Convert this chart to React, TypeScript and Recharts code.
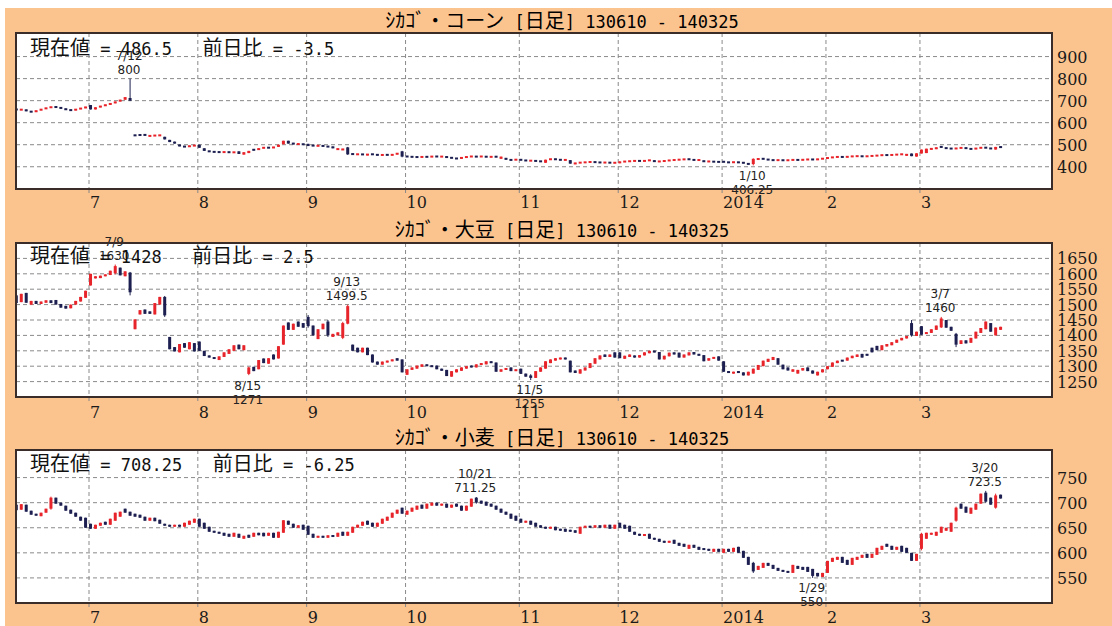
import React from 'react';
import { ComposedChart, Bar, XAxis, YAxis, CartesianGrid, ReferenceDot } from 'recharts';

// trading-day index of the first session of each month (130610 = index 0)
const monthStart = [15, 37, 59, 79, 102, 122, 143, 164, 183];
const monthLabels = ['7', '8', '9', '10', '11', '12', '2014', '2', '3'];

const cornOpen = [
  662, 658, 660, 652, 648, 656, 662, 668, 672, 670, 664, 658, 656, 662, 666, 680, 660, 670, 676, 682,
  688, 696, 704, 712, 545, 546, 548, 538, 540, 541, 536, 522, 514, 500, 493, 490, 494, 500, 484, 472,
  469, 468, 465, 468, 464, 470, 455, 462, 480, 476, 484, 488, 485, 490, 502, 518, 508, 502, 504, 504,
  498, 494, 496, 493, 492, 478, 476, 488, 460, 455, 458, 452, 458, 456, 452, 455, 452, 456, 470, 448,
  446, 445, 443, 446, 444, 448, 445, 447, 442, 439, 437, 442, 445, 447, 445, 447, 443, 447, 436, 440,
  432, 431, 433, 430, 427, 428, 425, 418, 432, 436, 433, 430, 430, 412, 417, 419, 420, 422, 421, 418,
  420, 417, 416, 422, 424, 425, 427, 425, 428, 429, 423, 424, 427, 429, 431, 432, 436, 432, 430, 428,
  423, 424, 423, 424, 421, 419, 422, 420, 416, 412, 432, 438, 434, 431, 429, 431, 428, 430, 432, 430,
  432, 434, 431, 435, 436, 441, 443, 446, 443, 446, 447, 449, 446, 448, 449, 451, 454, 452, 454, 455,
  450, 460, 446, 460, 462, 478, 480, 494, 486, 484, 481, 484, 487, 482, 480, 484, 488, 485, 478, 492,
];
const cornClose = [
  658, 660, 652, 648, 656, 662, 668, 672, 670, 664, 658, 656, 662, 666, 672, 660, 670, 676, 682, 688,
  696, 704, 716, 700, 540, 542, 541, 542, 543, 544, 524, 512, 505, 493, 490, 496, 498, 486, 472, 468,
  466, 465, 468, 464, 467, 458, 466, 472, 474, 484, 488, 485, 490, 500, 518, 505, 502, 504, 500, 494,
  494, 496, 493, 490, 484, 482, 481, 456, 455, 458, 454, 458, 455, 452, 455, 453, 456, 462, 446, 445,
  444, 443, 446, 444, 448, 445, 447, 441, 439, 436, 443, 446, 448, 445, 448, 444, 447, 444, 446, 432,
  430, 433, 430, 427, 428, 425, 424, 432, 436, 432, 430, 432, 414, 418, 420, 421, 423, 420, 418, 420,
  417, 419, 424, 425, 426, 428, 426, 428, 430, 422, 425, 428, 430, 432, 433, 435, 432, 430, 431, 422,
  425, 422, 421, 421, 419, 422, 418, 416, 410, 436, 438, 434, 431, 429, 431, 428, 431, 432, 430, 433,
  434, 432, 436, 438, 443, 444, 446, 443, 447, 448, 449, 446, 449, 450, 452, 454, 452, 455, 456, 458,
  458, 448, 461, 478, 482, 484, 488, 486, 483, 481, 485, 487, 482, 480, 485, 488, 485, 481, 490, 486.5,
];
// [index, high, low] where a wick shows beyond the body
const cornWicks = [[23, 800, 698], [149, 438, 406.25], [78, 472, 443], [67, 490, 454]];

const soyOpen = [
  1530, 1508, 1538, 1500, 1512, 1502, 1506, 1514, 1515, 1502, 1496, 1488, 1500, 1510, 1522, 1562, 1585, 1586, 1592, 1596,
  1602, 1620, 1592, 1604, 1420, 1468, 1484, 1478, 1468, 1500, 1525, 1395, 1362, 1345, 1375, 1355, 1375, 1380, 1350, 1335,
  1328, 1320, 1330, 1340, 1350, 1370, 1352, 1275, 1298, 1290, 1325, 1308, 1338, 1325, 1370, 1442, 1418, 1445, 1440, 1460,
  1432, 1388, 1420, 1445, 1395, 1400, 1392, 1438, 1370, 1360, 1345, 1360, 1338, 1315, 1305, 1312, 1316, 1326, 1322, 1272,
  1288, 1292, 1298, 1306, 1302, 1302, 1292, 1288, 1266, 1280, 1285, 1292, 1302, 1296, 1304, 1306, 1316, 1312, 1282, 1288,
  1296, 1284, 1292, 1276, 1270, 1262, 1282, 1292, 1310, 1318, 1322, 1328, 1318, 1286, 1276, 1286, 1294, 1308, 1322, 1338,
  1330, 1345, 1345, 1324, 1330, 1335, 1328, 1335, 1342, 1350, 1346, 1322, 1332, 1345, 1344, 1328, 1335, 1346, 1340, 1336,
  1318, 1324, 1332, 1316, 1284, 1276, 1284, 1280, 1270, 1276, 1288, 1300, 1314, 1320, 1326, 1305, 1296, 1282, 1276, 1286,
  1296, 1286, 1270, 1280, 1290, 1298, 1310, 1320, 1318, 1326, 1330, 1340, 1340, 1360, 1366, 1352, 1364, 1368, 1376, 1384,
  1390, 1440, 1398, 1430, 1405, 1408, 1418, 1426, 1450, 1428, 1405, 1372, 1384, 1376, 1390, 1408, 1420, 1440, 1400, 1418,
];
const soyClose = [
  1505, 1535, 1506, 1512, 1502, 1510, 1514, 1505, 1500, 1490, 1487, 1500, 1512, 1525, 1545, 1600, 1592, 1594, 1598, 1610,
  1625, 1595, 1608, 1540, 1452, 1482, 1470, 1470, 1505, 1525, 1465, 1355, 1348, 1372, 1360, 1378, 1348, 1350, 1333, 1328,
  1325, 1332, 1345, 1355, 1368, 1355, 1368, 1296, 1284, 1320, 1310, 1326, 1322, 1365, 1432, 1418, 1438, 1428, 1425, 1430,
  1400, 1420, 1438, 1400, 1405, 1410, 1440, 1495, 1350, 1345, 1360, 1336, 1312, 1305, 1315, 1318, 1322, 1318, 1280, 1290,
  1296, 1302, 1306, 1300, 1298, 1290, 1285, 1268, 1284, 1290, 1296, 1300, 1296, 1306, 1310, 1316, 1310, 1282, 1290, 1294,
  1284, 1290, 1275, 1266, 1262, 1284, 1296, 1316, 1322, 1326, 1328, 1322, 1280, 1278, 1290, 1296, 1310, 1326, 1335, 1330,
  1338, 1328, 1326, 1334, 1338, 1328, 1336, 1345, 1350, 1345, 1322, 1334, 1344, 1338, 1328, 1338, 1345, 1338, 1334, 1316,
  1326, 1330, 1318, 1282, 1278, 1282, 1278, 1270, 1282, 1292, 1304, 1318, 1324, 1330, 1305, 1290, 1286, 1290, 1288, 1294,
  1284, 1276, 1282, 1290, 1300, 1312, 1318, 1316, 1328, 1334, 1338, 1328, 1334, 1345, 1352, 1368, 1372, 1378, 1386, 1392,
  1398, 1400, 1412, 1402, 1410, 1420, 1432, 1455, 1425, 1415, 1370, 1384, 1374, 1392, 1412, 1424, 1445, 1412, 1425.5, 1428,
];
const soyWicks = [
  [20, 1630, 1598], [23, 1606, 1530], [30, 1528, 1460], [47, 1298, 1271], [59, 1466, 1425],
  [63, 1450, 1395], [66, 1444, 1388], [67, 1499.5, 1436], [104, 1274, 1255], [181, 1450, 1396],
  [187, 1460, 1424], [190, 1408, 1362],
];

const wheatOpen = [
  696, 686, 696, 684, 678, 673, 680, 688, 710, 700, 694, 686, 680, 672, 670, 658, 648, 654, 662, 656,
  664, 672, 688, 682, 678, 676, 672, 664, 670, 666, 658, 656, 652, 656, 652, 656, 660, 668, 660, 652,
  644, 642, 640, 638, 632, 638, 628, 636, 632, 640, 640, 634, 640, 630, 640, 664, 658, 650, 656, 654,
  638, 630, 634, 630, 635, 632, 642, 634, 640, 650, 654, 664, 660, 652, 658, 664, 670, 678, 690, 676,
  682, 686, 696, 688, 694, 700, 694, 698, 690, 698, 694, 684, 692, 710, 704, 702, 698, 694, 688, 682,
  678, 674, 668, 660, 664, 660, 655, 652, 648, 652, 648, 648, 646, 645, 638, 650, 654, 650, 655, 650,
  656, 648, 660, 656, 654, 642, 638, 634, 638, 630, 628, 624, 620, 626, 620, 618, 608, 616, 612, 609,
  608, 602, 608, 600, 608, 602, 612, 604, 592, 580, 566, 570, 580, 576, 570, 566, 564, 560, 574, 572,
  572, 568, 560, 552, 560, 582, 586, 592, 586, 576, 586, 590, 598, 590, 596, 606, 618, 614, 606, 614,
  610, 600, 584, 608, 628, 636, 634, 640, 644, 642, 664, 698, 692, 678, 686, 698, 720, 710, 690, 716,
];
const wheatClose = [
  685, 697, 682, 676, 674, 680, 688, 710, 698, 694, 684, 678, 672, 664, 650, 648, 656, 660, 656, 668,
  680, 682, 680, 674, 672, 670, 664, 670, 663, 658, 654, 652, 656, 652, 660, 664, 668, 652, 648, 642,
  640, 638, 634, 632, 640, 630, 634, 630, 640, 635, 633, 640, 630, 642, 665, 656, 650, 655, 646, 636,
  630, 634, 630, 635, 632, 640, 634, 642, 652, 656, 662, 656, 652, 660, 668, 672, 680, 686, 678, 684,
  690, 694, 688, 698, 700, 694, 698, 690, 696, 692, 684, 694, 708, 700, 698, 694, 692, 686, 680, 676,
  668, 664, 660, 664, 656, 652, 650, 648, 652, 645, 644, 642, 642, 640, 652, 654, 650, 655, 650, 656,
  648, 656, 650, 648, 642, 636, 634, 637, 628, 626, 622, 620, 624, 618, 614, 612, 616, 610, 606, 606,
  604, 608, 602, 608, 602, 610, 600, 590, 576, 563, 574, 580, 574, 568, 564, 562, 560, 576, 568, 566,
  562, 554, 553, 560, 584, 590, 592, 580, 576, 590, 592, 596, 590, 598, 610, 614, 612, 606, 612, 602,
  600, 584, 598, 638, 640, 640, 642, 652, 650, 660, 690, 688, 680, 690, 698, 718, 702, 696, 714.5, 708.25,
];
const wheatWicks = [
  [7, 712, 686], [93, 711.25, 698], [149, 582, 560], [161, 568, 550], [183, 640, 605],
  [190, 692, 662], [196, 723.5, 700], [198, 718, 688],
];

// labelled extremes: [index, value, date, kind]
const cornNotes = [[23, 800, '7/12', 'high'], [149, 406.25, '1/10', 'low']];
const soyNotes = [
  [20, 1630, '7/9', 'high'], [67, 1499.5, '9/13', 'high'], [47, 1271, '8/15', 'low'],
  [104, 1255, '11/5', 'low'], [187, 1460, '3/7', 'high'],
];
const wheatNotes = [[93, 711.25, '10/21', 'high'], [161, 550, '1/29', 'low'], [196, 723.5, '3/20', 'high']];

const cornTicks = [400, 500, 600, 700, 800, 900];
const soyTicks = [1250, 1300, 1350, 1400, 1450, 1500, 1550, 1600, 1650];
const wheatTicks = [550, 600, 650, 700, 750];

const RED = '#e8242b';
const NAVY = '#1c1f50';
const ORANGE = '#fbc48f';
const INK = '#1a1a1a';
const MONO = "'DejaVu Sans Mono', monospace";
const CJK = "'Noto Sans CJK JP', sans-serif";
const SERIF = "'DejaVu Serif', serif";
const W = 1112;
const X_DOMAIN: [number, number] = [-0.06, 209.4];

function build(open: number[], close: number[], wicks: number[][]) {
  const extra = new Map(wicks.map((w) => [w[0], w]));
  return open.map((o, i) => {
    const c = close[i];
    const w = extra.get(i);
    const hi = w ? Math.max(w[1], o, c) : Math.max(o, c);
    const lo = w ? Math.min(w[2], o, c) : Math.min(o, c);
    return { i, open: o, close: c, range: [lo, hi] };
  });
}

function Candle(props: any) {
  const { x, y, width, height, payload } = props;
  if (!payload) return null;
  const [lo, hi] = payload.range;
  const top = Math.min(y, y + height);
  const h = Math.abs(height);
  const toY = (v: number) => (hi === lo ? top : top + ((hi - v) / (hi - lo)) * h);
  const color = payload.close >= payload.open ? RED : NAVY;
  const cx = x + width / 2;
  let bTop = toY(Math.max(payload.open, payload.close));
  let bBot = toY(Math.min(payload.open, payload.close));
  if (bBot - bTop < 2) {
    const m = (bTop + bBot) / 2;
    bTop = m - 1;
    bBot = m + 1;
  }
  return (
    <g>
      <line x1={cx} x2={cx} y1={top} y2={top + h} stroke={color} strokeWidth={1} />
      <rect x={cx - 1.5} y={bTop} width={3} height={bBot - bTop} fill={color} />
    </g>
  );
}

function MonthTick(props: any) {
  const { x, y, index, dy } = props;
  return (
    <g>
      <line x1={x} x2={x} y1={y} y2={y + 4} stroke="#888" />
      <text x={x + 1} y={y + dy + 6} fontFamily={SERIF} fontSize={16} fill={INK}>
        {monthLabels[index]}
      </text>
    </g>
  );
}

function PriceTick(props: any) {
  const { x, y, payload } = props;
  return (
    <text x={x + 5} y={y + 6} fontFamily={SERIF} fontSize={16} fill={INK} textAnchor="start">
      {payload.value}
    </text>
  );
}

function NoteLabel(props: any) {
  const { viewBox, note } = props;
  const cx = viewBox.x + viewBox.width / 2 - 1;
  const cy = viewBox.y + viewBox.height / 2;
  const [, v, date, kind] = note;
  const y1 = kind === 'high' ? cy - 23 : cy + 10;
  const y2 = kind === 'high' ? cy - 9 : cy + 24;
  return (
    <g fontFamily="'DejaVu Sans', sans-serif" fontSize={12} fill="#222" textAnchor="middle">
      <text x={cx} y={y1 + 4.4}>{date}</text>
      <text x={cx} y={y2 + 4.4}>{String(v)}</text>
    </g>
  );
}

function Mixed({ text }: { text: string }) {
  const runs = text.match(/[\x00-\x7f]+|[^\x00-\x7f]+/g) || [];
  return (
    <>
      {runs.map((r, k) =>
        /[\x00-\x7f]/.test(r[0]) ? (
          <span key={k} style={{ fontFamily: MONO, fontSize: 17 }}>{r}</span>
        ) : (
          <span key={k} style={{ fontFamily: CJK, fontSize: 20 }}>{r}</span>
        ),
      )}
    </>
  );
}

function Panel(props: any) {
  const { top, height, marginTop, axisH, labelDy, titleY, infoY, title, open, close, wicks, domain, ticks, notes } = props;
  const data = build(open, close, wicks);
  const plotTop = top + marginTop;
  const plotBottom = top + height - axisH;
  const last = close[close.length - 1];
  const diff = Number((last - close[close.length - 2]).toFixed(2));
  const info = `現在値 = ${last}   前日比 = ${diff}`;
  return (
    <>
      <div style={{ position: 'absolute', left: 0, top, width: W, height }}>
        <ComposedChart width={W} height={height} data={data} margin={{ top: marginTop, right: 0, bottom: 0, left: 16 }}>
          <CartesianGrid fill="#fff" stroke="#8a8a8a" strokeDasharray="4 3" />
          <XAxis
            dataKey="i"
            type="number"
            domain={X_DOMAIN}
            allowDataOverflow
            ticks={monthStart.map((m) => m - 0.3)}
            interval={0}
            height={axisH}
            axisLine={false}
            tickLine={false}
            tickSize={0}
            tickMargin={0}
            tick={<MonthTick dy={labelDy} />}
          />
          <YAxis
            orientation="right"
            width={60}
            domain={domain}
            allowDataOverflow
            ticks={ticks}
            interval={0}
            axisLine={false}
            tickLine={false}
            tickSize={0}
            tickMargin={0}
            tick={<PriceTick />}
          />
          <Bar dataKey="range" shape={<Candle />} isAnimationActive={false} barSize={3} />
          {notes.map((n: any, k: number) => (
            <ReferenceDot
              key={k}
              x={n[0]}
              y={n[1]}
              r={0}
              fill="none"
              stroke="none"
              ifOverflow="visible"
              label={(p: any) => <NoteLabel {...p} note={n} />}
            />
          ))}
        </ComposedChart>
      </div>
      <div
        style={{
          position: 'absolute',
          left: 15,
          top: plotTop - 1,
          width: 1038,
          height: plotBottom - plotTop + 2,
          border: '2px solid #3a2c28',
          boxSizing: 'border-box',
          pointerEvents: 'none',
        }}
      />
      <div style={{ position: 'absolute', left: 362, width: 400, top: titleY - 12, height: 24, lineHeight: '24px', textAlign: 'center', color: '#000', whiteSpace: 'pre' }}>
        <Mixed text={title} />
      </div>
      <div style={{ position: 'absolute', left: 30, top: infoY - 12, height: 24, lineHeight: '24px', color: '#111', whiteSpace: 'pre' }}>
        <Mixed text={info} />
      </div>
    </>
  );
}

export default function App() {
  return (
    <div style={{ position: 'absolute', left: 0, top: 0, width: 1112, height: 626, background: '#fff', overflow: 'hidden' }}>
      <div style={{ position: 'absolute', left: 5, top: 8, right: 0, bottom: 0, background: ORANGE }} />
      <Panel
        top={0} height={215} marginTop={33} axisH={26} labelDy={13} titleY={20} infoY={47}
        title="ｼｶｺﾞ・コーン [日足] 130610 - 140325"
        open={cornOpen} close={cornClose} wicks={cornWicks}
        domain={[299, 1007]} ticks={cornTicks} notes={cornNotes}
      />
      <Panel
        top={215} height={208} marginTop={28} axisH={26} labelDy={15} titleY={229} infoY={255}
        title="ｼｶｺﾞ・大豆 [日足] 130610 - 140325"
        open={soyOpen} close={soyClose} wicks={soyWicks}
        domain={[1200, 1700]} ticks={soyTicks} notes={soyNotes}
      />
      <Panel
        top={423} height={203} marginTop={27} axisH={23} labelDy={14} titleY={437} infoY={463}
        title="ｼｶｺﾞ・小麦 [日足] 130610 - 140325"
        open={wheatOpen} close={wheatClose} wicks={wheatWicks}
        domain={[500, 805]} ticks={wheatTicks} notes={wheatNotes}
      />
    </div>
  );
}
